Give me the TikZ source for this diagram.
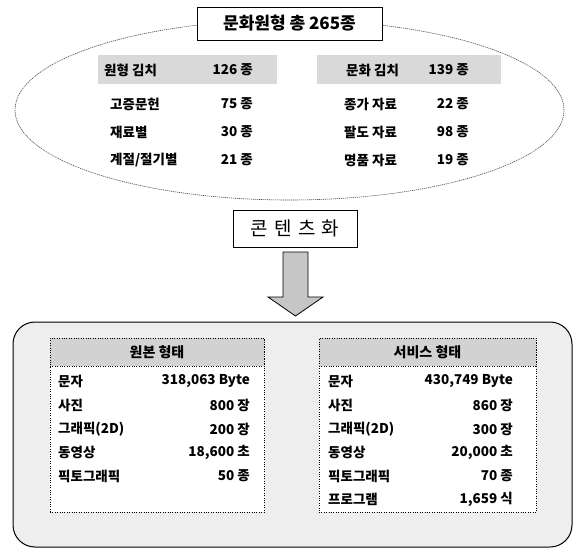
\documentclass[tikz,border=0pt]{standalone}
\usepackage{fontspec}
\setmainfont{Noto Sans CJK KR}
\usetikzlibrary{shapes.geometric}
\begin{document}
\begin{tikzpicture}[x=1pt,y=-1pt,
  txt/.style={inner sep=0pt, font=\bfseries\fontsize{13.5}{15}\selectfont},
  lab/.style={txt, anchor=west},
  val/.style={txt, anchor=east},
  band/.style={fill=gray!30, draw=none, inner sep=0pt},
  hdr/.style={fill=gray!35, draw=black, dotted, inner sep=0pt},
  inbox/.style={fill=white, draw=black, dotted, inner sep=0pt},
  tbox/.style={draw=black, fill=white, line width=0.9pt, inner sep=0pt}
]
\useasboundingbox (0,0) rectangle (574,549);
% ---------- top ellipse ----------
\node[ellipse, draw=gray!60!black, dash pattern=on 1.2pt off 0.8pt, line width=0.6pt,
      minimum width=549, minimum height=180, inner sep=0pt] (ell) at (289.5,110) {};
\node[band, minimum width=179, minimum height=29] (bandL) at (187.5,69) {};
\node[band, minimum width=184, minimum height=29] (bandR) at (409,69) {};
\node[tbox, minimum width=185, minimum height=33,
      font=\bfseries\fontsize{17}{20}\selectfont] (title) at (289.5,23.5) {문화원형 총 265종};
% left column
\node[lab] (l1) at (104,70) {원형 김치};
\node[val] (v1) at (253,70) {126 종};
\node[lab] (l2) at (110,104) {고증문헌};
\node[val] (v2) at (253,104) {75 종};
\node[lab] (l3) at (110,132) {재료별};
\node[val] (v3) at (253,132) {30 종};
\node[lab] (l4) at (110,160) {계절/절기별};
\node[val] (v4) at (253,160) {21 종};
% right column
\node[lab] (r1) at (346,70) {문화 김치};
\node[val] (w1) at (469,70) {139 종};
\node[lab] (r2) at (344,104) {종가 자료};
\node[val] (w2) at (469,104) {22 종};
\node[lab] (r3) at (344,132) {팔도 자료};
\node[val] (w3) at (469,132) {98 종};
\node[lab] (r4) at (344,160) {명품 자료};
\node[val] (w4) at (469,160) {19 종};
% ---------- middle ----------
\node[draw=black, fill=white, line width=0.8pt, minimum width=124, minimum height=37, inner sep=0pt,
      font=\fontsize{19}{21}\selectfont] (conv) at (295,228.5) {콘\,\,텐\,\,츠\,\,화};
\draw[fill=gray!45, draw=black, line width=0.8pt]
  (283,252) -- (308,252) -- (308,297) -- (323,297) -- (295.5,316) -- (268,297) -- (283,297) -- cycle;
% ---------- bottom ----------
\draw[rounded corners=22pt, line width=1pt, fill=gray!13] (13,322) rectangle (572,547);
% left table
\node[inbox, minimum width=214, minimum height=174] (boxL) at (157,425) {};
\node[hdr, minimum width=214, minimum height=28, font=\bfseries\fontsize{14}{16}\selectfont] (hL) at (157,352) {원본 형태};
\node[lab] (a1) at (58,381) {문자};
\node[val] (b1) at (250,381) {318,063 Byte};
\node[lab] (a2) at (58,405) {사진};
\node[val] (b2) at (250,405) {800 장};
\node[lab] (a3) at (58,429) {그래픽(2D)};
\node[val] (b3) at (250,429) {200 장};
\node[lab] (a4) at (58,452) {동영상};
\node[val] (b4) at (250,452) {18,600 초};
\node[lab] (a5) at (58,476) {픽토그래픽};
\node[val] (b5) at (250,476) {50 종};
% right table
\node[inbox, minimum width=217, minimum height=174] (boxR) at (427.5,425) {};
\node[hdr, minimum width=217, minimum height=28, font=\bfseries\fontsize{14}{16}\selectfont] (hR) at (427.5,352) {서비스 형태};
\node[lab] (c1) at (328,381) {문자};
\node[val] (d1) at (513,381) {430,749 Byte};
\node[lab] (c2) at (328,405) {사진};
\node[val] (d2) at (513,405) {860 장};
\node[lab] (c3) at (328,429) {그래픽(2D)};
\node[val] (d3) at (513,429) {300 장};
\node[lab] (c4) at (328,452) {동영상};
\node[val] (d4) at (513,452) {20,000 초};
\node[lab] (c5) at (328,476) {픽토그래픽};
\node[val] (d5) at (513,476) {70 종};
\node[lab] (c6) at (328,499) {프로그램};
\node[val] (d6) at (513,499) {1,659 식};
\end{tikzpicture}
\end{document}
